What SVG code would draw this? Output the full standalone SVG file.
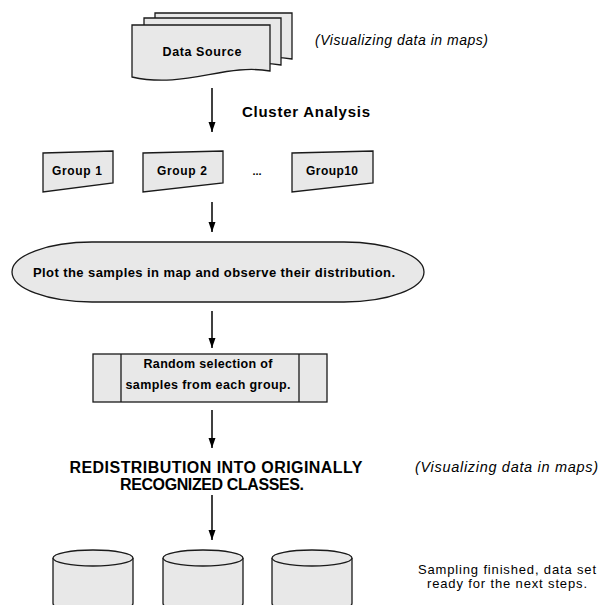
<svg xmlns="http://www.w3.org/2000/svg" width="602" height="605" viewBox="0 0 602 605">
<style>
.shape{fill:#e8e8e8;stroke:#1a1a1a;stroke-width:1.3}
.t{font-family:"Comic Sans MS","Liberation Sans",sans-serif;fill:#000}
.b{font-weight:bold}
.i{font-style:italic}
.c{stroke:#000;stroke-width:1.5;fill:none}
</style>
<defs>
<marker id="ah" markerUnits="userSpaceOnUse" markerWidth="10" markerHeight="8" refX="10" refY="3.5" orient="auto" viewBox="0 0 10 7">
<path d="M0,0 L10,3.5 L0,7 Z" fill="#000"/>
</marker>
</defs>
<rect width="602" height="605" fill="#fff"/>
<g id="data-source">
<path class="shape" d="M155,13 H292 V59 C247,51 208,77 155,65 Z"/>
<path class="shape" d="M144,18 H281 V65 C236,57 197,83 144,71 Z"/>
<path class="shape" d="M132,25 H270 V71 C225,63 185,89 132,77 Z"/>
<text class="t b" x="202" y="56" font-size="12.5" text-anchor="middle" textLength="79">Data Source</text>
</g>
<g id="note-top"><text class="t i" x="315" y="45" font-size="14" textLength="173">(Visualizing data in maps)</text></g>
<g id="cluster-label"><text class="t b" x="242" y="117" font-size="15" textLength="128">Cluster Analysis</text></g>
<g id="group1">
<path class="shape" d="M43,153 L113,151 L113,183 L43,192 Z"/>
<text class="t b" x="77" y="175" font-size="12" text-anchor="middle" textLength="50">Group 1</text>
</g>
<g id="group2">
<path class="shape" d="M143,153 L223,151 L223,183 L143,192 Z"/>
<text class="t b" x="182" y="175" font-size="12" text-anchor="middle" textLength="50">Group 2</text>
</g>
<g id="ellipsis"><text class="t b" x="257" y="175" font-size="11" text-anchor="middle">...</text></g>
<g id="group10">
<path class="shape" d="M292,153 L373,151 L373,183 L292,192 Z"/>
<text class="t b" x="332" y="175" font-size="12" text-anchor="middle" textLength="52">Group10</text>
</g>
<g id="plot">
<rect class="shape" x="12" y="242" width="412" height="60" rx="80" ry="30"/>
<text class="t b" x="214" y="277" font-size="13" text-anchor="middle" textLength="362">Plot the samples in map and observe their distribution.</text>
</g>
<g id="random">
<rect class="shape" x="93" y="354" width="234" height="48"/>
<line class="shape" x1="121" y1="354" x2="121" y2="402"/>
<line class="shape" x1="299" y1="354" x2="299" y2="402"/>
<text class="t b" x="208" y="368" font-size="12.5" text-anchor="middle" textLength="129">Random selection of</text>
<text class="t b" x="208" y="389" font-size="12.5" text-anchor="middle" textLength="165">samples from each group.</text>
</g>
<g id="redistribution">
<text class="t b" x="216" y="473" font-size="16" text-anchor="middle" textLength="293">REDISTRIBUTION INTO ORIGINALLY</text>
<text class="t b" x="212" y="490" font-size="16" text-anchor="middle" textLength="184">RECOGNIZED CLASSES.</text>
</g>
<g id="note-bottom"><text class="t i" x="598" y="472" font-size="14.5" text-anchor="end" textLength="183">(Visualizing data in maps)</text></g>
<g id="db1">
<path class="shape" d="M53,558 V603 Q53,606 56,606 H130 Q133,606 133,603 V558"/>
<ellipse class="shape" cx="93" cy="558" rx="40" ry="8"/>
</g>
<g id="db2">
<path class="shape" d="M163,558 V603 Q163,606 166,606 H240 Q243,606 243,603 V558"/>
<ellipse class="shape" cx="203" cy="558" rx="40" ry="8"/>
</g>
<g id="db3">
<path class="shape" d="M272,558 V603 Q272,606 275,606 H349 Q352,606 352,603 V558"/>
<ellipse class="shape" cx="312" cy="558" rx="40" ry="8"/>
</g>
<g id="note-final">
<text class="t" x="507" y="574" font-size="13" text-anchor="middle" textLength="178">Sampling finished, data set</text>
<text class="t" x="507" y="588" font-size="13" text-anchor="middle" textLength="160">ready for the next steps.</text>
</g>
<g id="connectors">
<line class="c" x1="212" y1="88" x2="212" y2="132" marker-end="url(#ah)"/>
<line class="c" x1="212" y1="202" x2="212" y2="232" marker-end="url(#ah)"/>
<line class="c" x1="212" y1="311" x2="212" y2="348" marker-end="url(#ah)"/>
<line class="c" x1="212" y1="410" x2="212" y2="448" marker-end="url(#ah)"/>
<line class="c" x1="212" y1="495" x2="212" y2="540" marker-end="url(#ah)"/>
</g>
</svg>
